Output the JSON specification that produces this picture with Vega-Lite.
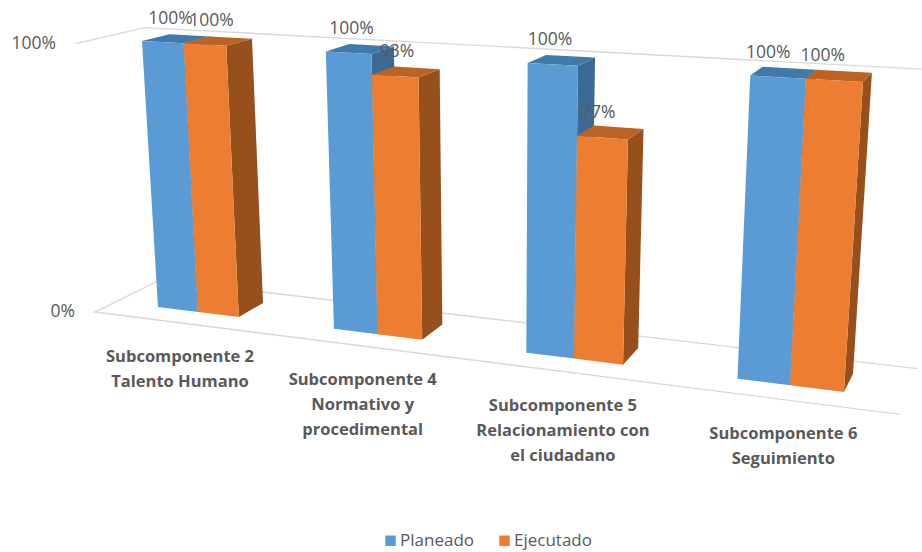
{
  "$schema": "https://vega.github.io/schema/vega-lite/v6.json",
  "width": 922,
  "height": 552,
  "padding": 0,
  "autosize": {"type": "none"},
  "background": "white",
  "view": {"stroke": null},
  "config": {"font": "Open Sans"},
  "datasets": {
    "barras": [
      {"numero": 2, "subcomponente": "Subcomponente 2\nTalento Humano", "serie": "Planeado", "valor": 100},
      {"numero": 2, "subcomponente": "Subcomponente 2\nTalento Humano", "serie": "Ejecutado", "valor": 100},
      {"numero": 4, "subcomponente": "Subcomponente 4\nNormativo y\nprocedimental", "serie": "Planeado", "valor": 100},
      {"numero": 4, "subcomponente": "Subcomponente 4\nNormativo y\nprocedimental", "serie": "Ejecutado", "valor": 93},
      {"numero": 5, "subcomponente": "Subcomponente  5\nRelacionamiento con\nel ciudadano", "serie": "Planeado", "valor": 100},
      {"numero": 5, "subcomponente": "Subcomponente  5\nRelacionamiento con\nel ciudadano", "serie": "Ejecutado", "valor": 77},
      {"numero": 6, "subcomponente": "Subcomponente 6\nSeguimiento", "serie": "Planeado", "valor": 100},
      {"numero": 6, "subcomponente": "Subcomponente 6\nSeguimiento", "serie": "Ejecutado", "valor": 100}
    ],
    "escala": [{"valor": 0}, {"valor": 100}]
  },
  "encoding": {
    "x": {"field": "X", "type": "quantitative", "axis": null, "scale": {"domain": [0, 922], "range": [0, 922], "nice": false, "zero": false}},
    "y": {"field": "Y", "type": "quantitative", "axis": null, "scale": {"domain": [0, 552], "range": [0, 552], "nice": false, "zero": false}}
  },
  "layer": [
    {
      "data": {"name": "escala"},
      "transform": [
        {"calculate": "[0,1,2,3]", "as": "k"},
        {"flatten": ["k"]},
        {"filter": "datum.valor == 0 || datum.k > 0"},
        {"calculate": "[1.0757,-0.073,-0.073,1.0757][datum.k]", "as": "t"},
        {"calculate": "[-0.74,-0.74,1.68,1.68][datum.k]", "as": "d"},
        {"calculate": "datum.valor / 100", "as": "h"},
        {"calculate": "1 - 0.14784*datum.t - 0.04465*datum.h + 0.02719*datum.d", "as": "w"},
        {"calculate": "(561.22*datum.t - 22.34*datum.h + 30.89*datum.d + 158) / datum.w", "as": "X"},
        {"calculate": "(27.05*datum.t - 267.83*datum.h - 5.5*datum.d + 307) / datum.w", "as": "Y"}
      ],
      "mark": {"type": "line", "stroke": "#d9d9d9", "strokeWidth": 1.4, "clip": true},
      "encoding": {
        "detail": {"field": "valor"},
        "order": {"field": "k", "type": "quantitative"}
      }
    },
    {
      "data": {"name": "barras"},
      "transform": [
        {"calculate": "indexof([2,4,5,6], datum.numero)", "as": "c"},
        {"calculate": "datum.serie == 'Planeado' ? 0 : 1", "as": "s"},
        {"calculate": "[0,1,2,3,4,5,6,7,8,9,10,11]", "as": "k"},
        {"flatten": ["k"]},
        {"calculate": "[' lateral',' superior',''][floor(datum.k/4)]", "as": "cara"},
        {"calculate": "datum.serie + datum.cara", "as": "capa"},
        {"calculate": "datum.numero + datum.capa", "as": "poligono"},
        {"calculate": "(datum.c + (datum.s + [1,1,1,1,0,1,1,0,0,1,1,0][datum.k]) * 0.235) / 3.47", "as": "t"},
        {"calculate": "[0,1,1,0,0,0,1,1,0,0,0,0][datum.k]", "as": "d"},
        {"calculate": "[0,0,1,1,1,1,1,1,0,0,1,1][datum.k] * datum.valor / 100", "as": "h"},
        {"calculate": "1 - 0.14784*datum.t - 0.04465*datum.h + 0.02719*datum.d", "as": "w"},
        {"calculate": "(561.22*datum.t - 22.34*datum.h + 30.89*datum.d + 158) / datum.w", "as": "X"},
        {"calculate": "(27.05*datum.t - 267.83*datum.h - 5.5*datum.d + 307) / datum.w", "as": "Y"}
      ],
      "mark": {"type": "line", "interpolate": "linear-closed", "strokeWidth": 0},
      "encoding": {
        "detail": {"field": "poligono"},
        "order": {"field": "k", "type": "quantitative"},
        "fill": {
          "field": "capa",
          "type": "nominal",
          "scale": {
            "domain": ["Planeado", "Ejecutado", "Planeado lateral", "Planeado superior", "Ejecutado lateral", "Ejecutado superior"],
            "range": ["#5b9bd5", "#ed7d31", "#3b6a94", "#4179a8", "#97501b", "#bc6324"]
          },
          "legend": {
            "values": ["Planeado", "Ejecutado"],
            "title": null,
            "orient": "none",
            "legendX": 382,
            "legendY": 532,
            "direction": "horizontal",
            "columns": 2,
            "columnPadding": 21,
            "symbolType": "square",
            "symbolSize": 110,
            "symbolStrokeWidth": 0,
            "labelFontSize": 17,
            "labelOffset": 1,
            "labelColor": "#595959",
            "labelFont": "Open Sans",
            "symbolOffset": 0
          }
        }
      }
    },
    {
      "data": {"name": "barras"},
      "transform": [
        {"calculate": "indexof([2,4,5,6], datum.numero)", "as": "c"},
        {"calculate": "datum.serie == 'Planeado' ? 0 : 1", "as": "s"},
        {"calculate": "0.972 * (datum.c + (datum.s + 0.5) * 0.235) / 3.47 + 0.0134", "as": "t"},
        {"calculate": "datum.valor / 100", "as": "h"},
        {"calculate": "1 - 0.14784*datum.t - 0.04465*datum.h", "as": "w"},
        {"calculate": "(561.22*datum.t - 22.34*datum.h + 158) / datum.w", "as": "X"},
        {"calculate": "(27.05*datum.t - 267.83*datum.h + 307) / datum.w", "as": "Y"},
        {"calculate": "datum.valor + '%'", "as": "rotulo"}
      ],
      "mark": {"type": "text", "dy": -24, "fontSize": 17.5, "color": "#595959", "font": "Open Sans", "baseline": "middle", "align": "center"},
      "encoding": {"text": {"field": "rotulo"}}
    },
    {
      "data": {"name": "barras"},
      "transform": [
        {"filter": "datum.serie == 'Planeado'"},
        {"calculate": "(indexof([2,4,5,6], datum.numero) + 0.235) / 3.47", "as": "t"},
        {"calculate": "1 - 0.14784*datum.t - 0.02012", "as": "w"},
        {"calculate": "(561.22*datum.t - 22.86 + 158) / datum.w", "as": "X"},
        {"calculate": "(27.05*datum.t + 4.07 + 307) / datum.w", "as": "Y"}
      ],
      "mark": {"type": "text", "lineBreak": "\n", "lineHeight": 25, "dx": 1.5, "dy": 26.5, "fontSize": 16.5, "fontWeight": "bold", "color": "#595959", "font": "Open Sans", "baseline": "top", "align": "center"},
      "encoding": {"text": {"field": "subcomponente"}}
    },
    {
      "data": {"name": "escala"},
      "transform": [
        {"calculate": "datum.valor / 100", "as": "h"},
        {"calculate": "1 + 0.0108 - 0.04465*datum.h - 0.02012", "as": "w"},
        {"calculate": "(-40.97 - 22.34*datum.h - 22.86 + 158) / datum.w", "as": "X"},
        {"calculate": "(-1.97 - 267.83*datum.h + 4.07 + 307) / datum.w", "as": "Y"},
        {"calculate": "datum.valor + '%'", "as": "rotulo"}
      ],
      "mark": {"type": "text", "dx": -20, "fontSize": 17.5, "color": "#595959", "font": "Open Sans", "baseline": "middle", "align": "right"},
      "encoding": {"text": {"field": "rotulo"}}
    }
  ]
}
